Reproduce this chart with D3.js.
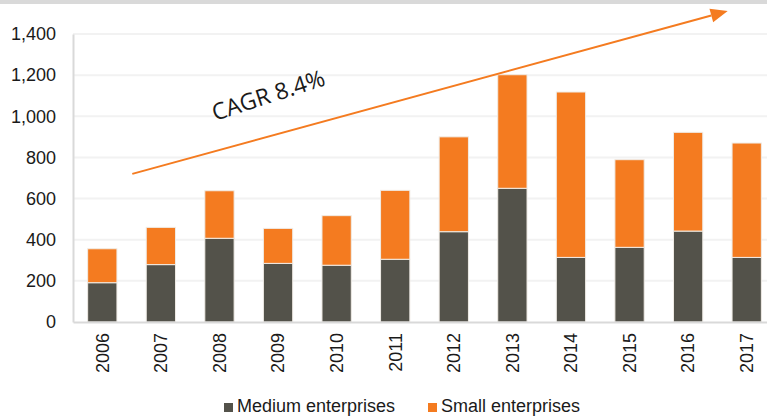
<!DOCTYPE html>
<meta charset="utf-8">
<style>
body { margin: 0; background: #fff; }
text { font-family: "Liberation Sans", Arial, sans-serif; fill: #1a1a1a; }
</style>
<svg width="767" height="420"></svg>
<script src="https://d3js.org/d3.v7.min.js"></script>
<script>

var years = ["2006","2007","2008","2009","2010","2011","2012","2013","2014","2015","2016","2017"];
var medium = [191, 279, 407, 285, 276, 305, 439, 650, 314, 363, 442, 314];
var small = [165, 181, 231, 170, 241, 335, 461, 552, 804, 426, 480, 556];
var yTicks = [0, 200, 400, 600, 800, 1000, 1200, 1400];
var seriesNames = ["Medium enterprises", "Small enterprises"];
var colors = ["#53524a", "#f47b20"];

var svg = d3.select("svg");

// grey band along the top
svg.append("rect").attr("x", 0).attr("y", 0).attr("width", 767).attr("height", 4).attr("fill", "#d9d9d9");

var x = d3.scaleBand().domain(years).range([73, 776]).paddingInner(0.5).paddingOuter(0.25);
var y = d3.scaleLinear().domain([0, 1400]).range([322, 34]);

// gridlines
svg.append("g").selectAll("line")
  .data(yTicks.slice(1))
  .enter().append("line")
    .attr("x1", 73).attr("x2", 767)
    .attr("y1", function(d) { return y(d); })
    .attr("y2", function(d) { return y(d); })
    .attr("stroke", "#f2f2f2").attr("stroke-width", 2);

var data = years.map(function(yr, i) { return {year: yr, medium: medium[i], small: small[i]}; });
var stack = d3.stack().keys(["medium", "small"])(data);

svg.append("g").selectAll("g")
  .data(stack)
  .enter().append("g")
    .attr("fill", function(d, i) { return colors[i]; })
  .selectAll("rect")
  .data(function(d) { return d; })
  .enter().append("rect")
    .attr("x", function(d) { return x(d.data.year); })
    .attr("y", function(d) { return y(d[1]); })
    .attr("width", x.bandwidth())
    .attr("height", function(d) { return y(d[0]) - y(d[1]); })
    .attr("stroke", "#f0ece6").attr("stroke-width", 1);

// axes
var yAxis = svg.append("g")
    .attr("transform", "translate(73,0)")
    .call(d3.axisLeft(y).tickValues(yTicks).tickSize(0).tickPadding(17).tickFormat(d3.format(",")));
yAxis.select(".domain").attr("stroke", "#d9d9d9").attr("stroke-width", 2);
yAxis.selectAll("text").style("font-size", "18px").attr("fill", "#1a1a1a");

var xAxis = svg.append("g")
    .attr("transform", "translate(0,322)")
    .call(d3.axisBottom(x).tickSize(0));
xAxis.select(".domain").attr("stroke", "#d9d9d9").attr("stroke-width", 2);
xAxis.selectAll("text")
    .style("font-size", "18px").attr("fill", "#1a1a1a")
    .attr("transform", "rotate(-90)")
    .attr("text-anchor", "end")
    .attr("x", -11).attr("y", 0).attr("dy", "0.35em");

// CAGR arrow
var x0 = x("2006") + x.bandwidth() / 2 + 30,
    x1 = x("2017") + x.bandwidth() / 2 - 19,
    y0 = y(720), y1 = y(1512);
var ang = Math.atan2(y1 - y0, x1 - x0);
var headLen = 17, headW = 7;
var bx = x1 - headLen * Math.cos(ang), by = y1 - headLen * Math.sin(ang);
svg.append("line")
    .attr("x1", x0).attr("y1", y0).attr("x2", bx).attr("y2", by)
    .attr("stroke", "#f47b20").attr("stroke-width", 2);
svg.append("polygon")
    .attr("points", [
      [x1, y1],
      [bx + headW * Math.sin(ang), by - headW * Math.cos(ang)],
      [bx - headW * Math.sin(ang), by + headW * Math.cos(ang)]
    ].map(function(p) { return p.join(","); }).join(" "))
    .attr("fill", "#f47b20");

svg.append("text")
    .attr("transform", "translate(215,121) rotate(-18)")
    .style("font-family", "'Open Sans', sans-serif")
    .style("font-size", "23px")
    .text("CAGR 8.4%");

// legend
var legendX = [224, 428];
var legend = svg.append("g").selectAll("g")
  .data(seriesNames)
  .enter().append("g")
    .attr("transform", function(d, i) { return "translate(" + legendX[i] + ",403)"; });
legend.append("rect")
    .attr("width", 9).attr("height", 9)
    .attr("fill", function(d, i) { return colors[i]; });
legend.append("text")
    .attr("x", 13).attr("y", 9)
    .style("font-size", "18px")
    .text(function(d) { return d; });

</script>
